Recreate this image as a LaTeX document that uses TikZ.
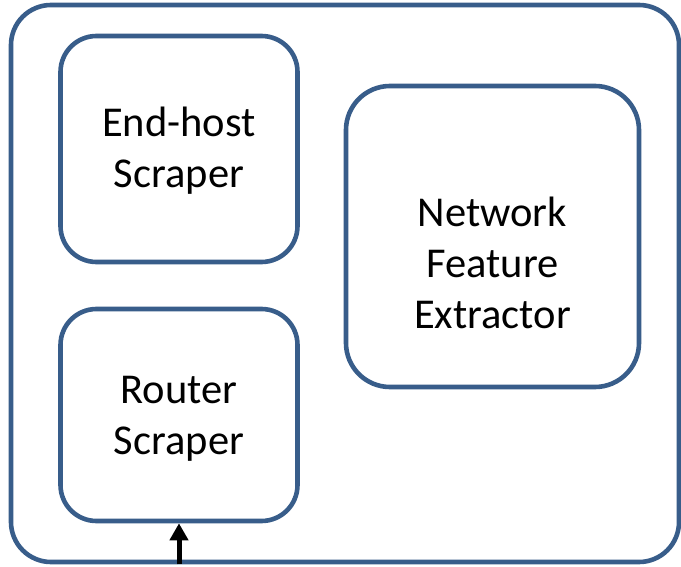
\documentclass[tikz,border=0pt]{standalone}
\usepackage{fontspec}
\setmainfont{Carlito}
\usetikzlibrary{arrows.meta}
\definecolor{frameblue}{RGB}{56,93,138}
\tikzset{
  panel/.style={draw=frameblue, line width=4.6pt, rounded corners=#1, fill=white, inner sep=0pt},
  lbl/.style={font=\fontsize{42.5}{51}\selectfont, align=center, anchor=base, inner sep=0pt},
  feed/.style={line width=5pt, draw=black, -{Triangle[width=18pt,length=17pt]}}
}
\begin{document}
\begin{tikzpicture}[x=1pt,y=-1pt]
  \useasboundingbox (0,0) rectangle (681,567);
  % enclosing frame
  \node[panel=40pt, minimum width=668pt, minimum height=557pt] (frame) at (345,283.5) {};
  % component boxes
  \node[panel=36pt, minimum width=237pt, minimum height=226pt] (endhost) at (179,149) {};
  \node[panel=36pt, minimum width=237pt, minimum height=212pt] (router) at (179,415) {};
  \node[panel=44pt, minimum width=293pt, minimum height=301pt] (extractor) at (492.5,236.5) {};
  % box labels (base anchor sits on the last line)
  \node[lbl] (endhosttxt) at (179,188) {End-host\\Scraper};
  \node[lbl] (routertxt) at (179,454) {Router\\Scraper};
  \node[lbl] (extractortxt) at (492.5,328) {Network\\Feature\\Extractor};
  % incoming feed into the router scraper
  \coordinate (feedin) at (router.south |- frame.south);
  \draw[feed] (feedin) -- (router.south);
\end{tikzpicture}
\end{document}
